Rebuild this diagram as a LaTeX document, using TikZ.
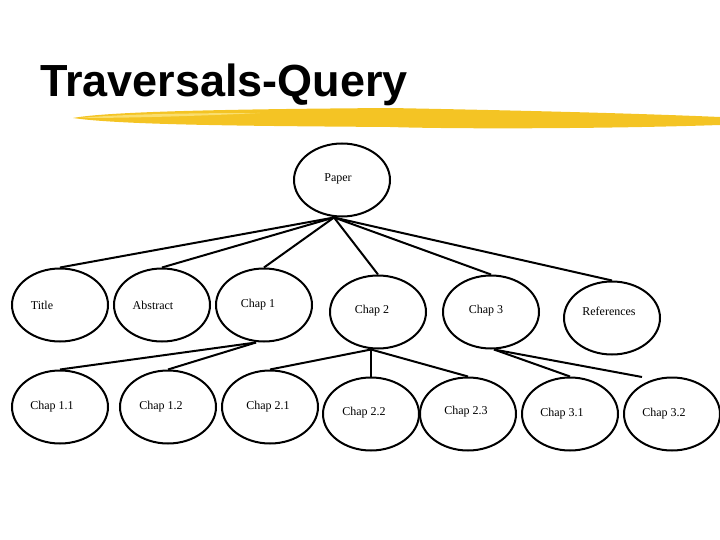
\documentclass[tikz,border=0pt]{standalone}
\usepackage{fontspec}
\setmainfont{Liberation Serif}
\newfontfamily\headfont{Liberation Sans}
\usetikzlibrary{shapes.geometric}
\definecolor{barcolor}{RGB}{244,196,36}
\definecolor{barlight}{RGB}{250,222,110}
\tikzset{
  oval/.style={ellipse,draw,line width=2pt,minimum width=96pt,minimum height=73pt,inner sep=0pt},
  tag/.style={inner sep=0pt,font=\fontsize{12}{14}\selectfont},
  link/.style={line width=2pt},
}
\begin{document}
\begin{tikzpicture}[x=1pt,y=-1pt]
	\useasboundingbox (0,0) rectangle (720,540);
	% heading with highlighter stroke
	\node[anchor=base west,inner sep=0pt,font=\headfont\bfseries\fontsize{45}{50}\selectfont] (heading) at (40,97) {Traversals-Query};
	\fill[barcolor] (73,118) .. controls (110,111) and (250,109) .. (390,108)
		.. controls (550,111) and (650,114) .. (720,117) -- (720,125)
		.. controls (600,129) and (450,129) .. (390,127)
		.. controls (250,126) and (120,125) .. (73,118) -- cycle;
	\fill[barlight] (80,118) .. controls (120,114) and (200,113) .. (260,113)
		.. controls (200,116) and (130,118) .. (80,118) -- cycle;

	% tree, labels sit a bit left of centre as in the slide
	\node[oval,label={[tag,xshift=-4pt,yshift=1pt]center:Paper}] (paper) at (342,180) {};

	\node[oval,label={[tag,xshift=-18pt]center:Title}] (tit) at (60,305) {};
	\node[oval,label={[tag,xshift=-9pt]center:Abstract}] (abs) at (162,305) {};
	\node[oval,label={[tag,xshift=-6pt]center:Chap 1}] (ch1) at (264,305) {};
	\node[oval,label={[tag,xshift=-6pt,yshift=1pt]center:Chap 2}] (ch2) at (378,312) {};
	\node[oval,label={[tag,xshift=-5pt,yshift=1pt]center:Chap 3}] (ch3) at (491,312) {};
	\node[oval,label={[tag,xshift=-3pt,yshift=7pt]center:References}] (refs) at (612,318) {};

	\node[oval,label={[tag,xshift=-8pt]center:Chap 1.1}] (ch11) at (60,407) {};
	\node[oval,label={[tag,xshift=-7pt]center:Chap 1.2}] (ch12) at (168,407) {};
	\node[oval,label={[tag,xshift=-2pt]center:Chap 2.1}] (ch21) at (270,407) {};
	\node[oval,label={[tag,xshift=-7pt,yshift=1pt]center:Chap 2.2}] (ch22) at (371,414) {};
	\node[oval,label={[tag,xshift=-2pt,yshift=2pt]center:Chap 2.3}] (ch23) at (468,414) {};
	\node[oval,label={[tag,xshift=-8pt]center:Chap 3.1}] (ch31) at (570,414) {};
	\node[oval,label={[tag,xshift=-8pt]center:Chap 3.2}] (ch32) at (672,414) {};

	\foreach \child in {tit,abs,ch1,ch2,ch3,refs}
		\draw[link] ([xshift=-8pt]paper.south) -- (\child.north);
	\foreach \child in {ch11,ch12}
		\draw[link] ([xshift=-8pt]ch1.south) -- (\child.north);
	\foreach \child in {ch21,ch22,ch23}
		\draw[link] ([xshift=-7pt]ch2.south) -- (\child.north);
	\coordinate (loose) at (642,377);
	\draw[link] ([xshift=3pt]ch3.south) -- (ch31.north);
	\draw[link] ([xshift=3pt]ch3.south) -- (loose);
\end{tikzpicture}
\end{document}
